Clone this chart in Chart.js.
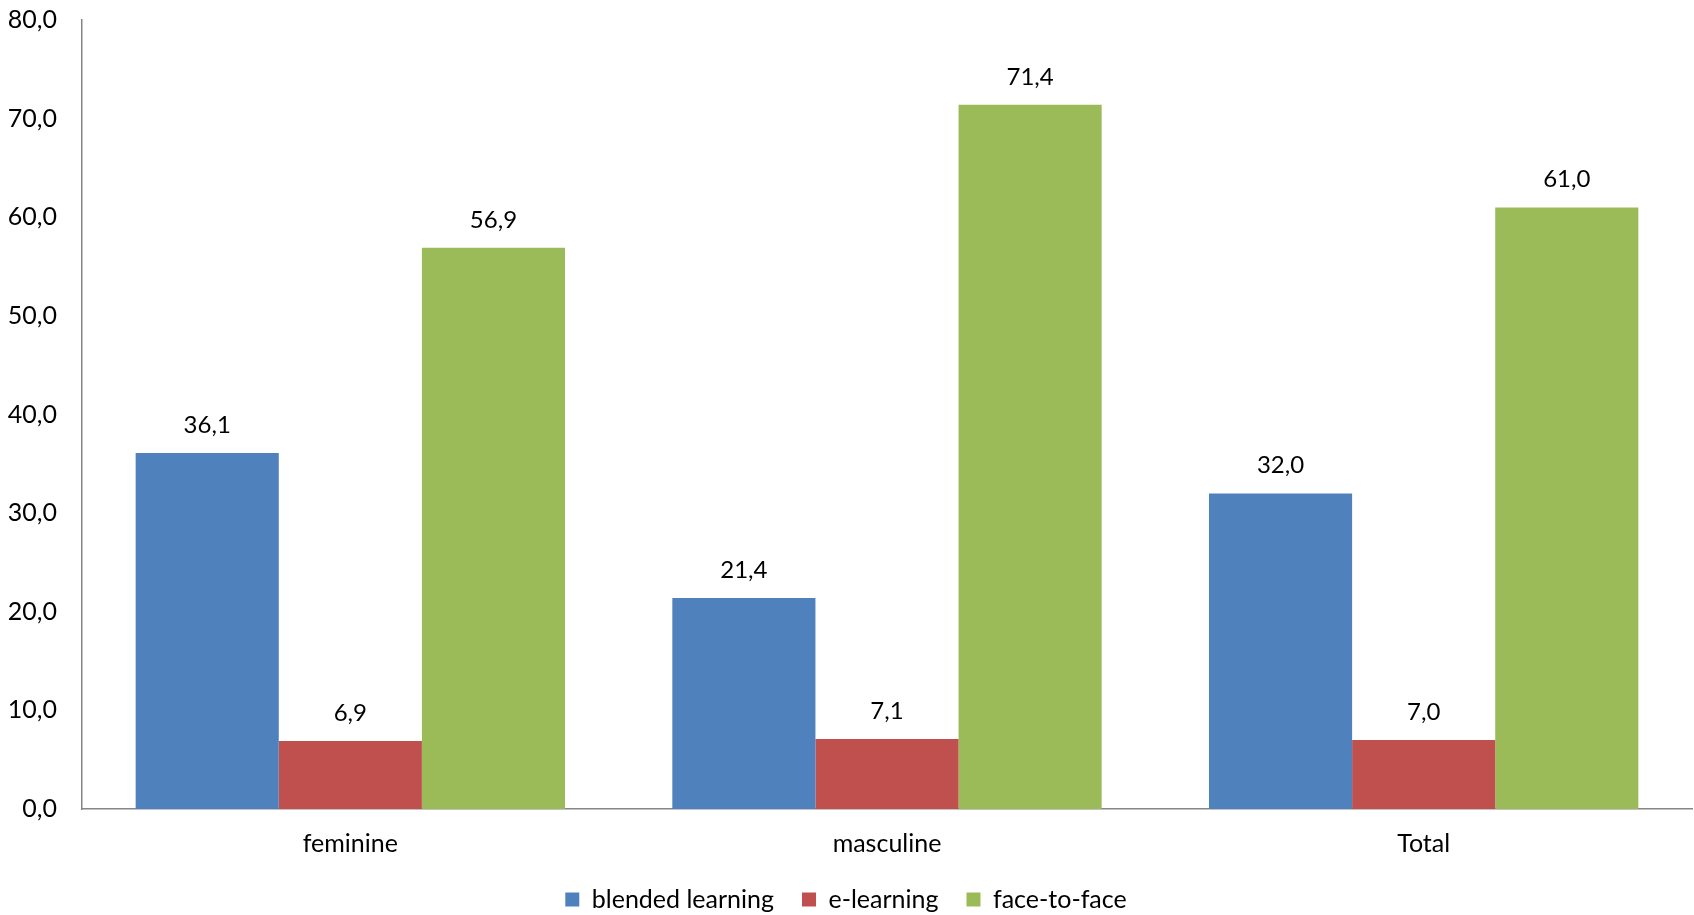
<!DOCTYPE html>
<html>
<head>
<meta charset="utf-8">
<script src="https://cdn.jsdelivr.net/npm/chart.js@4/dist/chart.umd.min.js"></script>
<style>
html,body{margin:0;padding:0;background:#fff;}
#wrap{width:1694px;height:915px;position:relative;}
</style>
</head>
<body>
<div id="wrap"><canvas id="c"></canvas></div>
<script>
const categories = ["feminine", "masculine", "Total"];
const blendedLearning = [36.1, 21.4, 32.0];
const eLearning = [6.9, 7.1, 7.0];
const faceToFace = [56.9, 71.4, 61.0];
const seriesNames = ["blended learning", "e-learning", "face-to-face"];
const yTicks = [0, 10, 20, 30, 40, 50, 60, 70, 80];

const FONT = "Lato, 'Open Sans', sans-serif";
const FS = 24;
const FS2 = 25;
const fmt = v => v.toFixed(1).replace('.', ',');

const valueLabels = {
  id: 'valueLabels',
  afterDatasetsDraw(chart) {
    const ctx = chart.ctx;
    ctx.save();
    ctx.font = FS + "px " + FONT;
    ctx.fillStyle = "#000";
    ctx.textAlign = "center";
    ctx.textBaseline = "alphabetic";
    chart.data.datasets.forEach((ds, i) => {
      chart.getDatasetMeta(i).data.forEach((bar, j) => {
        ctx.fillText(fmt(ds.data[j]), bar.x, bar.y - 20);
      });
    });
    ctx.restore();
  }
};

new Chart(document.getElementById('c'), {
  type: 'bar',
  data: {
    labels: categories,
    datasets: [
      { label: seriesNames[0], data: blendedLearning, backgroundColor: '#4F81BD' },
      { label: seriesNames[1], data: eLearning, backgroundColor: '#C0504D' },
      { label: seriesNames[2], data: faceToFace, backgroundColor: '#9BBB59' }
    ]
  },
  options: {
    responsive: true,
    maintainAspectRatio: false,
    animation: false,
    layout: { padding: { top: 20, right: 2, bottom: -7, left: 0 } },
    datasets: { bar: { categoryPercentage: 0.8, barPercentage: 1.0 } },
    scales: {
      x: {
        grid: { display: false, drawTicks: false },
        border: { color: '#868686', width: 1.5 },
        ticks: { color: '#000', font: { family: FONT, size: FS2 }, padding: 20 },
        afterFit(s) { s.height = 50; }
      },
      y: {
        min: 0, max: 80,
        afterBuildTicks(s) { s.ticks = yTicks.map(v => ({ value: v })); },
        grid: { display: false, drawTicks: false },
        border: { color: '#868686', width: 1.5 },
        ticks: { color: '#000', font: { family: FONT, size: FS2 }, padding: 25, callback: v => fmt(v) },
        afterFit(s) { s.width = 82; s.paddingTop = 0; s.paddingBottom = 0; }
      }
    },
    plugins: {
      legend: {
        position: 'bottom',
        labels: { color: '#000', font: { family: FONT, size: FS2 }, boxWidth: 14, boxHeight: 14, padding: 28 }
      },
      tooltip: { enabled: false }
    }
  },
  plugins: [valueLabels]
});
</script>
</body>
</html>
